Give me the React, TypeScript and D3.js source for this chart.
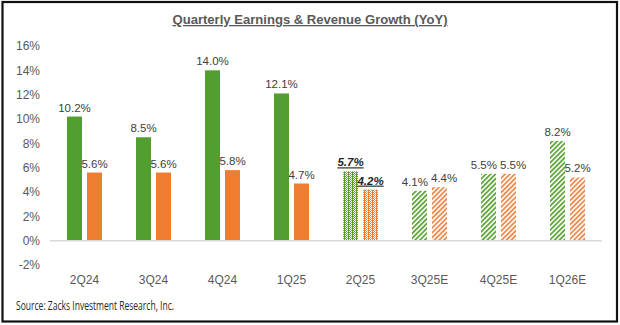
import React, { useEffect } from "react";
import * as d3 from "d3";

const categories = ["2Q24", "3Q24", "4Q24", "1Q25", "2Q25", "3Q25E", "4Q25E", "1Q26E"];
const earnings = [10.2, 8.5, 14.0, 12.1, 5.7, 4.1, 5.5, 8.2];
const revenue = [5.6, 5.6, 5.8, 4.7, 4.2, 4.4, 5.5, 5.2];
// "actual" | "current" | "estimate"
const kinds = ["actual", "actual", "actual", "actual", "current", "estimate", "estimate", "estimate"];
const yTicks = [-2, 0, 2, 4, 6, 8, 10, 12, 14, 16];

const W = 620;
const H = 325;
const GREEN = "#529E2F";
const ORANGE = "#ED7D31";
const FONT = "Arial, 'Liberation Sans', sans-serif";
const LABEL_SIZE = 11.5;

const textWidth = (s: string, size: number) => {
  let w = 0;
  for (const ch of s) {
    if (ch === ".") w += 0.278;
    else if (ch === "%") w += 0.889;
    else w += 0.556;
  }
  return w * size;
};

export default function App() {
  useEffect(() => {
    document.body.style.margin = "0";
  }, []);

  const x = d3.scaleBand<string>().domain(categories).range([50, 602]);
  const y = d3.scaleLinear().domain([0, 16]).range([240.7, 46]);
  const barW = 15;
  const gap = 2.5;

  const fillFor = (series: "e" | "r", kind: string) => {
    if (kind === "actual") return series === "e" ? GREEN : ORANGE;
    if (kind === "current") return series === "e" ? "url(#chkG)" : "url(#chkO)";
    return series === "e" ? "url(#strG)" : "url(#strO)";
  };

  const fmt = (v: number) => v.toFixed(1) + "%";

  return (
    <svg
      width={W}
      height={H}
      style={{ position: "absolute", left: 0, top: 0, display: "block", background: "#fff" }}
    >
      <defs>
        <pattern id="strG" patternUnits="userSpaceOnUse" width={3.4} height={4} patternTransform="rotate(45)">
          <rect width={3.4} height={4} fill="#fff" />
          <rect x={0} y={0} width={1.8} height={4} fill="#62a63c" />
        </pattern>
        <pattern id="strO" patternUnits="userSpaceOnUse" width={3.4} height={4} patternTransform="rotate(45)">
          <rect width={3.4} height={4} fill="#fff" />
          <rect x={0} y={0} width={1.8} height={4} fill="#EE8A4E" />
        </pattern>
        <pattern id="chkG" patternUnits="userSpaceOnUse" width={4} height={2}>
          <rect width={4} height={2} fill="#fff" />
          <rect x={0} y={0} width={1} height={2} fill={GREEN} />
          <rect x={1} y={0} width={1} height={1} fill={GREEN} />
          <rect x={2} y={1} width={1} height={1} fill={GREEN} />
          <rect x={3} y={0} width={1} height={1} fill="#7fbb5c" />
        </pattern>
        <pattern id="chkO" patternUnits="userSpaceOnUse" width={4} height={2}>
          <rect width={4} height={2} fill="#fff" />
          <rect x={0} y={0} width={1} height={2} fill={ORANGE} />
          <rect x={1} y={0} width={1} height={1} fill={ORANGE} />
          <rect x={2} y={1} width={1} height={1} fill={ORANGE} />
          <rect x={3} y={0} width={1} height={1} fill="#f3a36f" />
        </pattern>
      </defs>

      <rect x={0} y={0} width={W} height={H} fill="#fff" />
      <rect x={2.5} y={2} width={614.5} height={319.5} fill="none" stroke="#111" strokeWidth={2.2} />

      <text
        x={310}
        y={24}
        textAnchor="middle"
        fontFamily={FONT}
        fontSize={13}
        fontWeight="bold"
        fill="#595959"
        textDecoration="underline"
        textLength={275}
        lengthAdjust="spacingAndGlyphs"
      >
        Quarterly Earnings &amp; Revenue Growth (YoY)
      </text>

      {yTicks.map((t) => (
        <text
          key={t}
          x={40}
          y={y(t) + 4.2}
          textAnchor="end"
          fontFamily={FONT}
          fontSize={12}
          fill="#595959"
        >
          {t}%
        </text>
      ))}

      {categories.map((c, i) => {
        const cx = (x(c) as number) + x.bandwidth() / 2;
        const kind = kinds[i];
        const cur = kind === "current";
        const eX = cx - gap - barW;
        const rX = cx + gap;
        const eLabel = fmt(earnings[i]);
        const rLabel = fmt(revenue[i]);
        let eLx = eX + barW / 2;
        let rLx = rX + barW / 2;
        const eLy = y(earnings[i]) - 5;
        const rLy = y(revenue[i]) - 5;
        if (Math.abs(eLy - rLy) < 12) {
          const need = (textWidth(eLabel, LABEL_SIZE) + textWidth(rLabel, LABEL_SIZE)) / 2 + 3;
          const have = rLx - eLx;
          if (have < need) {
            const d = (need - have) / 2;
            eLx -= d;
            rLx += d;
          }
        }
        const labelProps = {
          textAnchor: "middle" as const,
          fontFamily: FONT,
          fontSize: LABEL_SIZE,
          fill: cur ? "#262626" : "#404040",
          fontWeight: cur ? "bold" : "normal",
          fontStyle: cur ? "italic" : "normal",
          textDecoration: cur ? "underline" : "none",
        };
        return (
          <g key={c}>
            <rect x={eX} y={y(earnings[i])} width={barW} height={y(0) - y(earnings[i])} fill={fillFor("e", kind)} />
            <rect x={rX} y={y(revenue[i])} width={barW} height={y(0) - y(revenue[i])} fill={fillFor("r", kind)} />
            <text x={eLx} y={eLy} {...labelProps}>
              {eLabel}
            </text>
            <text x={rLx} y={rLy} {...labelProps}>
              {rLabel}
            </text>
            <text x={cx} y={283.5} textAnchor="middle" fontFamily={FONT} fontSize={12} fill="#595959">
              {c}
            </text>
          </g>
        );
      })}

      <line x1={50} x2={602} y1={y(0)} y2={y(0)} stroke="#D9D9D9" strokeWidth={1.5} />

      <text
        x={16}
        y={310}
        fontFamily="'Liberation Sans Narrow', 'Open Sans', Arial, sans-serif"
        fontSize={13}
        fill="#262626"
        textLength={158}
        lengthAdjust="spacingAndGlyphs"
      >
        Source: Zacks Investment Research, Inc.
      </text>
    </svg>
  );
}
